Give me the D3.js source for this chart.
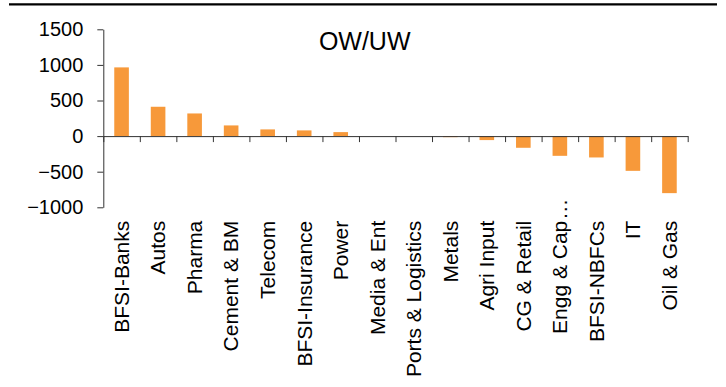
<!DOCTYPE html>
<html>
<head>
<meta charset="utf-8">
<script src="https://cdn.jsdelivr.net/npm/d3@7"></script>
<style>
  html, body { margin: 0; padding: 0; background: #fff; }
  svg { display: block; font-family: "Liberation Sans", Arial, sans-serif; }
</style>
</head>
<body>
<svg id="chart" width="726" height="387"></svg>
<script>
const categories = ["BFSI-Banks", "Autos", "Pharma", "Cement & BM", "Telecom", "BFSI-Insurance",
  "Power", "Media & Ent", "Ports & Logistics", "Metals", "Agri Input", "CG & Retail",
  "Engg & Cap…", "BFSI-NBFCs", "IT", "Oil & Gas"];
const values = [965, 412, 318, 150, 94, 80, 56, 0, 0, -15, -56, -164, -277, -300, -488, -801];
const yTicks = [-1000, -500, 0, 500, 1000, 1500];
const title = "OW/UW";

(function () {
const svg = d3.select("#chart");
const pLeft = 103.3, pRight = 687.7, pTop = 29.3, pBottom = 207.3;

const x = d3.scaleBand().domain(categories).range([pLeft, pRight]).paddingInner(0.6).paddingOuter(0.3);
const xb = d3.scaleLinear().domain([0, categories.length]).range([pLeft, pRight]);
const y = d3.scaleLinear().domain([-1000, 1500]).range([pBottom, pTop]);

// top rule
svg.append("line").attr("x1", 9).attr("x2", 717).attr("y1", 4.3).attr("y2", 4.3)
  .attr("stroke", "#000").attr("stroke-width", 2.2);

// bars
svg.append("g").selectAll("rect").data(categories).join("rect")
  .attr("x", d => x(d))
  .attr("width", x.bandwidth())
  .attr("y", (d, i) => y(Math.max(0, values[i])))
  .attr("height", (d, i) => Math.abs(y(values[i]) - y(0)))
  .attr("fill", "#F7993A");

// y axis
const ya = svg.append("g").attr("transform", `translate(${pLeft},0)`)
  .call(d3.axisLeft(y).tickValues(yTicks).tickSize(6).tickSizeOuter(0).tickPadding(14).tickFormat(d3.format("d")));
ya.selectAll("text").attr("font-size", 20).attr("fill", "#000").attr("font-family", "Liberation Sans, Arial, sans-serif");
ya.selectAll("line, path").attr("stroke", "#333");

// x axis at zero
const xa = svg.append("g").attr("transform", `translate(0,${y(0)})`)
  .call(d3.axisBottom(xb).tickValues(d3.range(categories.length + 1)).tickSize(6).tickSizeOuter(0).tickFormat(""));
xa.selectAll("line, path").attr("stroke", "#333");

// category labels
const lab = svg.append("g");
categories.forEach(c => {
  const cx = x(c) + x.bandwidth() / 2;
  const g = lab.append("g").attr("transform", `translate(${cx},${pBottom + 13.4}) rotate(-90)`);
  if (c.endsWith("…")) {
    g.append("text").attr("text-anchor", "end").attr("dy", "0.35em").attr("font-size", 21).text(c.slice(0, -1));
    g.append("text").attr("text-anchor", "start").attr("dy", "0.35em").attr("font-size", 21).attr("x", 1).text("…");
  } else {
    g.append("text").attr("text-anchor", "end").attr("dy", "0.35em").attr("font-size", 21).text(c);
  }
});

// title
svg.append("text").attr("x", 364.7).attr("y", 50).attr("text-anchor", "middle")
  .attr("font-size", 25).attr("fill", "#000").text(title);
})();
</script>
</body>
</html>
